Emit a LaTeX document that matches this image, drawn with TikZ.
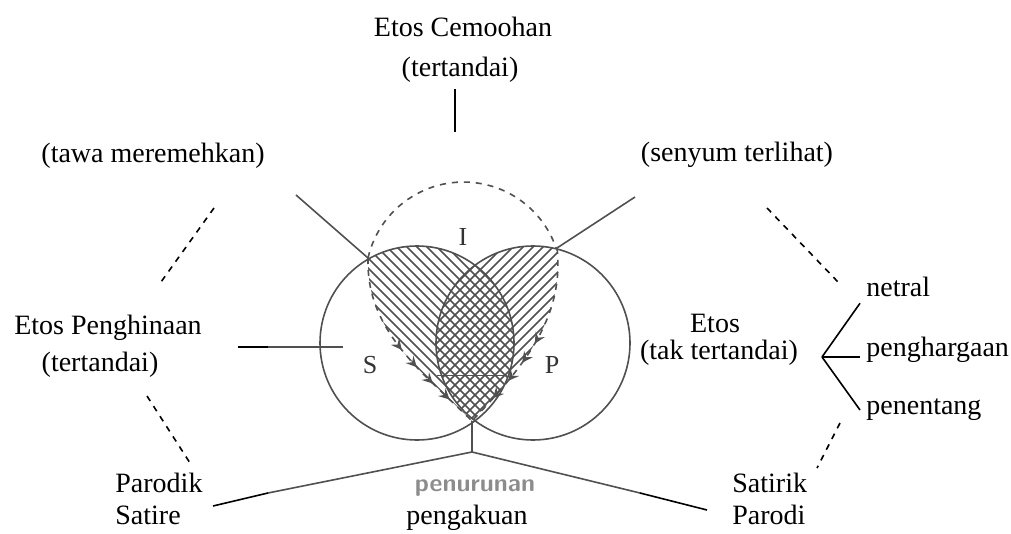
\documentclass[tikz,border=0pt]{standalone}
\usepackage{fontspec}
\setmainfont{Liberation Serif}
\usetikzlibrary{decorations.markings}
\newcommand\lblfont{\fontsize{14}{16}\selectfont}
\definecolor{ScanGrey}{RGB}{80,80,80}

\begin{document}
\begin{tikzpicture}[x=0.5pt, y=-0.5pt,
                every node/.style={font=\lblfont, inner sep=3pt},
                scan/.style={draw=ScanGrey, line width=0.8pt},
                hatch/.style={draw=ScanGrey, line width=0.75pt},
                plain/.style={draw=black, line width=0.8pt},
                dashlink/.style={draw=black, line width=0.8pt, dashed},
                setname/.style={font=\fontsize{13}{15}\selectfont, text=black!80},
                flow/.style={postaction={decorate}, decoration={markings,
                    mark=between positions 0.5 and 0.96 step 0.115 with {\arrow[scale=1.3]{stealth}}}}]
                \useasboundingbox (0,0) rectangle (1011,534);

                % Labels
                \node (cem) at (463,27) {Etos Cemoohan};
                \node (cemt) at (460,70) {(tertandai)};
                \node (tawa) at (153,156) {(tawa meremehkan)};
                \node (senyum) at (737,155) {(senyum terlihat)};
                \node (hina) at (108,328) {Etos Penghinaan};
                \node (hinat) at (100,365) {(tertandai)};
                \node (etos) at (715,323) {Etos};
                \node (etost) at (719,353) {(tak tertandai)};
                \node[anchor=west] (netral) at (860,287) {netral};
                \node[anchor=west] (hargaan) at (860,350) {penghargaan};
                \node[anchor=west] (tentang) at (860,410) {penentang};
                \node[anchor=west, align=left] (parodik) at (109,499) {Parodik\\Satire};
                \node[anchor=west, align=left] (satirik) at (726,499) {Satirik\\Parodi};
                \node[font=\fontsize{12.5}{14}\sffamily\bfseries, text=black!45] (turun) at (475,488) {penurunan};
                \node (akuan) at (467,518) {pengakuan};

                % Points of the diagram
                \coordinate (sI) at (368,258);
                \coordinate (pI) at (557,248);
                \coordinate (bot) at (472,421);
                \coordinate (apex) at (472,452);
                \coordinate (itop) at (455,132);
                \coordinate (tl) at (296,195);
                \coordinate (tr) at (635,197);
                \coordinate (bl) at (268,493);
                \coordinate (blend) at (213,506);
                \coordinate (br) at (640,493);
                \coordinate (brend) at (707,510);
                \coordinate (fork) at (822,357);

                % Hatching
                \begin{scope}
                    \clip (sI) .. controls (366,330) and (420,370) .. (bot)
                        .. controls (520,370) and (565,320) .. (pI) -- (557,150) -- (368,150) -- cycle;
                    \begin{scope}
                        \clip (417,343) circle [radius=97];
                        \foreach \a in {80,90,...,460}
                            \draw[hatch] (\a,150) -- ++(300,300);
                    \end{scope}
                    \begin{scope}
                        \clip (533,343) circle [radius=97];
                        \foreach \a in {520,530,...,860}
                            \draw[hatch] (\a,150) -- ++(-300,300);
                    \end{scope}
                \end{scope}

                % Circles S, P and I
                \draw[scan] (417,343) circle [radius=97];
                \draw[scan] (533,343) circle [radius=97];
                \draw[scan, dashed] (sI) arc[start angle=193, end angle=341, radius=98];
                \draw[scan, dashed, flow] (sI) .. controls (366,330) and (420,370) .. (bot);
                \draw[scan, dashed, flow] (pI) .. controls (565,320) and (520,370) .. (bot);
                \draw[scan, line width=0.5pt] (437,375) -- (507,375);
                \node[setname] (setI) at (463,237) {I};
                \node[setname] (setS) at (370,365) {S};
                \node[setname] (setP) at (552,365) {P};

                % Connectors
                \draw[plain] (cemt.south -| itop) -- (itop);
                \draw[scan] (tl) -- (sI);
                \draw[scan] (tr) -- (pI);
                \draw[plain] (238,347) -- (268,347);
                \draw[scan] (268,347) -- (343,347);
                \draw[scan] (bot) -- (apex);
                \draw[scan] (apex) -- (bl);
                \draw[plain] (bl) -- (blend);
                \draw[scan] (apex) -- (br);
                \draw[plain] (br) -- (brend);
                \draw[plain] (fork) -- (netral.south west);
                \draw[plain] (fork) -- (fork -| hargaan.west);
                \draw[plain] (fork) -- (tentang.west);

                % Dashed links
                \draw[dashlink] (214,208) -- (161,282);
                \draw[dashlink] (147,396) -- (190,463);
                \draw[dashlink] (767,208) -- (838,282);
                \draw[dashlink] (840,423) -- (817,468);
\end{tikzpicture}
\end{document}
